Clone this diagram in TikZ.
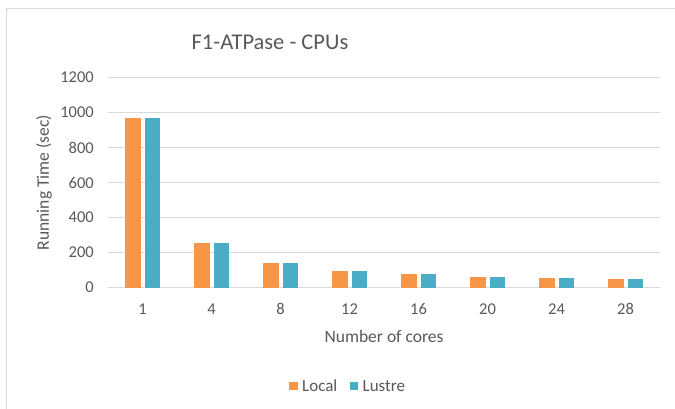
\documentclass[tikz,border=0pt]{standalone}
\usepackage{fontspec}
\setmainfont{Carlito}
\usepackage{tikz}
\usetikzlibrary{positioning}
\definecolor{colorLocal}{HTML}{F79646}
\definecolor{colorLustre}{HTML}{4BACC6}
\definecolor{colorGrid}{HTML}{D9D9D9}
\definecolor{colorText}{HTML}{595959}
\tikzset{
  ticklabel/.style={text=colorText, font=\fontsize{16.5}{18}\selectfont, inner sep=0pt},
  axislabel/.style={text=colorText, font=\fontsize{17.5}{19}\selectfont, inner sep=0pt},
  gridline/.style={colorGrid, line width=1pt},
  legendbox/.style={minimum size=8.5pt, inner sep=0pt},
  legendtext/.style={text=colorText, font=\fontsize{17}{19}\selectfont, inner sep=0pt}
}

\begin{document}
\begin{tikzpicture}[x=1pt, y=1pt]
\useasboundingbox (0,0) rectangle (675,-409);
\fill[white] (0,0) rectangle (675,-409);
% chart frame (only left and top edges visible)
\draw[colorGrid, line width=1.5pt] (6.5,-409) -- (6.5,-8.5) -- (675,-8.5);
\node[text=colorText, font=\fontsize{22.5}{24}\selectfont] (title) at (270,-42) {F1-ATPase - CPUs};
% grid and y ticks
\foreach \v in {0,200,...,1200} {
  \draw[gridline] (108,-287.5+0.175*\v) -- (660,-287.5+0.175*\v);
  \node[ticklabel, anchor=east] (y\v) at (94,-287.5+0.175*\v) {\v};
}
% bars
\foreach \c/\loc/\lus [count=\i from 0] in {1/970/970, 4/252/252, 8/138/138, 12/94/94, 16/75/75, 20/62/62, 24/54/54, 28/49/49} {
  \fill[colorLocal] (142.5+69*\i-17.5,-287.5) rectangle (142.5+69*\i-2,-287.5+0.175*\loc);
  \fill[colorLustre] (142.5+69*\i+2.5,-287.5) rectangle (142.5+69*\i+17.5,-287.5+0.175*\lus);
  \node[ticklabel] (x\c) at (142.5+69*\i,-309) {\c};
}
\node[axislabel, rotate=90] (ylabel) at (44,-182.5) {Running Time (sec)};
\node[axislabel] (xlabel) at (384,-336) {Number of cores};
% legend
\node[legendbox, fill=colorLocal] (keyLocal) at (293.5,-386) {};
\node[legendtext, right=4pt of keyLocal] (txtLocal) {Local};
\node[legendbox, fill=colorLustre] (keyLustre) at (354,-386) {};
\node[legendtext, right=4pt of keyLustre] (txtLustre) {Lustre};
\end{tikzpicture}
\end{document}
